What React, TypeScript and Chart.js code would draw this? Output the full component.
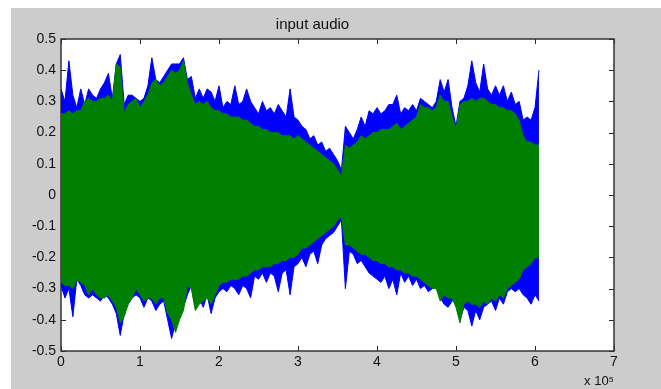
import React, { useEffect, useRef } from 'react';
import { Chart, registerables } from 'chart.js';

Chart.register(...registerables);

// sample spacing of each envelope bin (samples)
const BIN = 5000;

// x-axis ticks (units of 1e5 samples)
const X_TICKS = [0, 1, 2, 3, 4, 5, 6, 7];
// y-axis ticks
const Y_TICKS = [-0.5, -0.4, -0.3, -0.2, -0.1, 0, 0.1, 0.2, 0.3, 0.4, 0.5];

// Channel 1 (blue) envelope
const BLUE_UPPER = [
  0.34, 0.30, 0.43, 0.32, 0.28, 0.34, 0.29, 0.34, 0.32, 0.31,
  0.34, 0.36, 0.39, 0.31, 0.42, 0.45, 0.29, 0.32, 0.32, 0.31,
  0.30, 0.31, 0.35, 0.44, 0.37, 0.36, 0.38, 0.40, 0.42, 0.42,
  0.42, 0.44, 0.37, 0.38, 0.31, 0.34, 0.31, 0.34, 0.33, 0.30,
  0.35, 0.28, 0.30, 0.29, 0.35, 0.29, 0.30, 0.34, 0.30, 0.28,
  0.26, 0.30, 0.27, 0.28, 0.26, 0.29, 0.27, 0.25, 0.34, 0.25,
  0.24, 0.22, 0.21, 0.18, 0.19, 0.16, 0.17, 0.14, 0.15, 0.13,
  0.11, 0.08, 0.22, 0.20, 0.18, 0.21, 0.25, 0.22, 0.27, 0.26,
  0.28, 0.26, 0.27, 0.29, 0.29, 0.32, 0.26, 0.28, 0.27, 0.29,
  0.27, 0.31, 0.30, 0.29, 0.28, 0.30, 0.37, 0.33, 0.37, 0.28,
  0.22, 0.30, 0.31, 0.35, 0.43, 0.36, 0.33, 0.42, 0.34, 0.32,
  0.35, 0.32, 0.35, 0.30, 0.33, 0.29, 0.30, 0.24, 0.25, 0.24,
  0.28, 0.40,
];
const BLUE_LOWER = [
  -0.29, -0.33, -0.30, -0.39, -0.27, -0.29, -0.32, -0.33, -0.32, -0.33,
  -0.34, -0.32, -0.33, -0.35, -0.38, -0.45, -0.38, -0.35, -0.33, -0.32,
  -0.33, -0.36, -0.33, -0.34, -0.37, -0.35, -0.34, -0.40, -0.46, -0.41,
  -0.39, -0.36, -0.32, -0.29, -0.36, -0.33, -0.36, -0.32, -0.38, -0.33,
  -0.31, -0.30, -0.31, -0.29, -0.30, -0.32, -0.29, -0.30, -0.33, -0.26,
  -0.27, -0.25, -0.28, -0.25, -0.26, -0.31, -0.25, -0.24, -0.32, -0.23,
  -0.22, -0.20, -0.23, -0.19, -0.18, -0.22, -0.16, -0.14, -0.13, -0.12,
  -0.10, -0.08, -0.30, -0.18, -0.19, -0.22, -0.21, -0.23, -0.25, -0.26,
  -0.27, -0.28, -0.26, -0.30, -0.27, -0.32, -0.25, -0.28, -0.26, -0.29,
  -0.27, -0.30, -0.29, -0.31, -0.30, -0.29, -0.33, -0.35, -0.36, -0.34,
  -0.33, -0.40, -0.36, -0.37, -0.42, -0.37, -0.40, -0.36, -0.35, -0.34,
  -0.37, -0.33, -0.35, -0.31, -0.30, -0.31, -0.30, -0.32, -0.33, -0.35,
  -0.32, -0.34,
];

// Channel 2 (green) envelope
const GREEN_UPPER = [
  0.26, 0.26, 0.27, 0.26, 0.27, 0.27, 0.30, 0.31, 0.30, 0.30,
  0.31, 0.31, 0.32, 0.30, 0.42, 0.41, 0.26, 0.29, 0.30, 0.31,
  0.28, 0.30, 0.32, 0.36, 0.37, 0.35, 0.36, 0.38, 0.40, 0.39,
  0.40, 0.43, 0.36, 0.32, 0.29, 0.30, 0.29, 0.30, 0.28, 0.27,
  0.27, 0.26, 0.26, 0.25, 0.25, 0.25, 0.24, 0.24, 0.23, 0.22,
  0.22, 0.21, 0.21, 0.20, 0.20, 0.20, 0.19, 0.19, 0.19, 0.18,
  0.19, 0.18, 0.17, 0.16, 0.15, 0.14, 0.13, 0.12, 0.11, 0.10,
  0.08, 0.06, 0.16, 0.15, 0.16, 0.17, 0.19, 0.18, 0.19, 0.20,
  0.20, 0.21, 0.21, 0.21, 0.22, 0.23, 0.21, 0.22, 0.23, 0.24,
  0.25, 0.29, 0.28, 0.28, 0.27, 0.28, 0.32, 0.30, 0.30, 0.25,
  0.21, 0.29, 0.30, 0.30, 0.31, 0.30, 0.31, 0.31, 0.30, 0.29,
  0.29, 0.28, 0.28, 0.27, 0.27, 0.26, 0.24, 0.19, 0.17, 0.17,
  0.16, 0.16,
];
const GREEN_LOWER = [
  -0.28, -0.29, -0.29, -0.30, -0.27, -0.28, -0.29, -0.32, -0.30, -0.32,
  -0.33, -0.33, -0.32, -0.34, -0.36, -0.41, -0.39, -0.35, -0.33, -0.30,
  -0.32, -0.34, -0.33, -0.33, -0.35, -0.33, -0.33, -0.38, -0.40, -0.44,
  -0.40, -0.37, -0.29, -0.30, -0.37, -0.35, -0.34, -0.33, -0.35, -0.32,
  -0.29, -0.28, -0.28, -0.27, -0.27, -0.27, -0.26, -0.26, -0.25, -0.24,
  -0.24, -0.23, -0.23, -0.23, -0.22, -0.22, -0.21, -0.21, -0.20, -0.20,
  -0.19, -0.17, -0.17, -0.16, -0.15, -0.14, -0.13, -0.12, -0.11, -0.10,
  -0.08, -0.07, -0.16, -0.16, -0.17, -0.18, -0.19, -0.19, -0.20, -0.21,
  -0.21, -0.22, -0.22, -0.23, -0.23, -0.24, -0.24, -0.25, -0.25, -0.26,
  -0.26, -0.27, -0.28, -0.29, -0.30, -0.30, -0.34, -0.32, -0.33, -0.33,
  -0.36, -0.41, -0.35, -0.34, -0.35, -0.35, -0.36, -0.34, -0.35, -0.33,
  -0.34, -0.32, -0.33, -0.30, -0.29, -0.28, -0.27, -0.24, -0.23, -0.22,
  -0.20, -0.20,
];

const BLUE = '#0000ff';
const GREEN = '#008000';
const FONT = '"Liberation Sans", Arial, sans-serif';
const TEXT = '#111111';

export default function App() {
  const ref = useRef<HTMLCanvasElement | null>(null);

  useEffect(() => {
    if (!ref.current) return;
    const toPts = (arr: number[]) => arr.map((y, i) => ({ x: i * BIN, y }));

    const frame = {
      id: 'matlabFrame',
      beforeDraw(chart: any) {
        const { ctx, chartArea: a } = chart;
        ctx.save();
        ctx.fillStyle = '#ffffff';
        ctx.fillRect(a.left, a.top, a.right - a.left, a.bottom - a.top);
        ctx.restore();
      },
      beforeDatasetsDraw(chart: any) {
        const { ctx, chartArea: a, scales } = chart;
        ctx.save();
        ctx.strokeStyle = '#2a2a2a';
        ctx.lineWidth = 1;
        const L = 5;
        ctx.beginPath();
        for (const t of scales.x.ticks) {
          const px = Math.round(scales.x.getPixelForValue(t.value)) + 0.5;
          ctx.moveTo(px, a.bottom);
          ctx.lineTo(px, a.bottom - L);
          ctx.moveTo(px, a.top);
          ctx.lineTo(px, a.top + L);
        }
        for (const t of scales.y.ticks) {
          const py = Math.round(scales.y.getPixelForValue(t.value)) + 0.5;
          ctx.moveTo(a.left, py);
          ctx.lineTo(a.left + L, py);
          ctx.moveTo(a.right, py);
          ctx.lineTo(a.right - L, py);
        }
        ctx.stroke();
        ctx.strokeStyle = '#333333';
        ctx.lineWidth = 1.5;
        ctx.strokeRect(a.left, a.top, a.right - a.left, a.bottom - a.top);
        ctx.restore();
      },
    };

    const chart = new Chart(ref.current, {
      type: 'line',
      data: {
        datasets: [
          {
            label: 'channel 2 upper',
            data: toPts(GREEN_UPPER),
            borderColor: GREEN,
            backgroundColor: GREEN,
            fill: false,
            order: 0,
          },
          {
            label: 'channel 2 lower',
            data: toPts(GREEN_LOWER),
            borderColor: GREEN,
            backgroundColor: GREEN,
            fill: 0,
            order: 0,
          },
          {
            label: 'channel 1 upper',
            data: toPts(BLUE_UPPER),
            borderColor: BLUE,
            backgroundColor: BLUE,
            fill: false,
            order: 1,
          },
          {
            label: 'channel 1 lower',
            data: toPts(BLUE_LOWER),
            borderColor: BLUE,
            backgroundColor: BLUE,
            fill: 2,
            order: 1,
          },
        ],
      },
      options: {
        responsive: false,
        animation: false,
        devicePixelRatio: 1,
        layout: { padding: { left: 0, right: 47, top: 0, bottom: 0 } },
        elements: {
          point: { radius: 0 },
          line: { borderWidth: 1, tension: 0 },
        },
        plugins: {
          legend: { display: false },
          tooltip: { enabled: false },
          title: {
            display: true,
            text: 'input audio',
            color: TEXT,
            font: { family: FONT, size: 15, weight: 'normal', lineHeight: 1.2 },
            padding: { top: 8, bottom: 5 },
          },
        },
        scales: {
          x: {
            type: 'linear',
            min: 0,
            max: 700000,
            afterFit: (s: any) => {
              s.height = 38;
            },
            afterBuildTicks: (s: any) => {
              s.ticks = X_TICKS.map((v) => ({ value: v * 1e5 }));
            },
            ticks: {
              callback: (v: any) => String(Math.round(Number(v) / 1e5)),
              color: TEXT,
              font: { family: FONT, size: 14 },
              padding: 3,
              maxRotation: 0,
              autoSkip: false,
            },
            grid: { display: false, drawTicks: false },
            border: { display: false },
            title: {
              display: true,
              text: 'x 10⁵',
              align: 'end',
              color: TEXT,
              font: { family: FONT, size: 13, lineHeight: 1.2 },
              padding: 0,
            },
          },
          y: {
            type: 'linear',
            min: -0.5,
            max: 0.5,
            afterFit: (s: any) => {
              s.width = 50;
            },
            afterBuildTicks: (s: any) => {
              s.ticks = Y_TICKS.map((v) => ({ value: v }));
            },
            ticks: {
              callback: (v: any) => String(Math.round(Number(v) * 10) / 10),
              color: TEXT,
              font: { family: FONT, size: 14 },
              padding: 5,
              autoSkip: false,
            },
            grid: { display: false, drawTicks: false },
            border: { display: false },
          },
        },
      },
      plugins: [frame],
    } as any);

    return () => chart.destroy();
  }, []);

  return (
    <div
      style={{
        position: 'fixed',
        left: 11,
        top: 8,
        width: 650,
        height: 381,
        background: '#cccccc',
        overflow: 'hidden',
      }}
    >
      <canvas ref={ref} width={650} height={381} style={{ display: 'block' }} />
    </div>
  );
}
